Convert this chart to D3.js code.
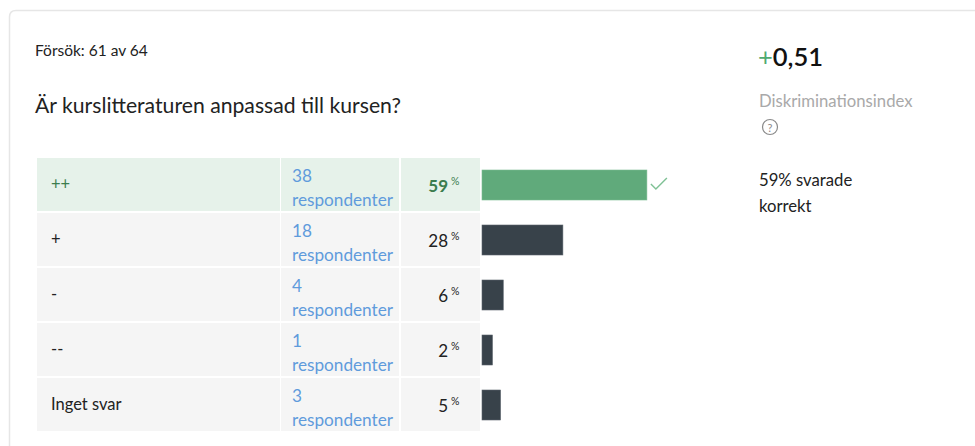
<!DOCTYPE html>
<html>
<head>
<meta charset="utf-8">
<script src="https://cdn.jsdelivr.net/npm/d3@7"></script>
<style>
  body { margin: 0; background: #fff; }
  svg text { font-family: Lato, "Open Sans", sans-serif; }
</style>
</head>
<body>
<svg id="chart"></svg>
<script>
let w = 975;
let h = 446;

// data
let answers = ["++", "+", "-", "--", "Inget svar"];
let counts = [38, 18, 4, 1, 3];
let percents = [59, 28, 6, 2, 5];
let correct = [true, false, false, false, false];
let attemptLabel = "Försök: 61 av 64";
let question = "Är kurslitteraturen anpassad till kursen?";
let discIndex = "0,51";

let data = answers.map((a, i) => ({
    answer: a, count: counts[i], pct: percents[i], correct: correct[i]
}));

let chart = d3.select("#chart")
    .attr("width", w)
    .attr("height", h);

// card outline
chart.append("path")
    .attr("d", "M9.5," + (h + 2) + " L9.5,17 Q9.5,10.5 16,10.5 L" + (w + 2) + ",10.5")
    .attr("fill", "none")
    .attr("stroke", "#e6e6e6")
    .attr("stroke-width", 1.5);

chart.append("text")
    .attr("x", 35).attr("y", 56)
    .attr("font-size", 15.5)
    .attr("fill", "#222")
    .text(attemptLabel);

chart.append("text")
    .attr("x", 35).attr("y", 113)
    .attr("font-size", 21.2)
    .attr("fill", "#222")
    .text(question);

// right side stats
let idx = chart.append("text")
    .attr("x", 758).attr("y", 66)
    .attr("font-size", 25.5)
    .attr("font-weight", 600)
    .attr("fill", "#111");
idx.append("tspan").attr("fill", "#4faa70").attr("font-weight", 400).text("+");
idx.append("tspan").text(discIndex);

chart.append("text")
    .attr("x", 759).attr("y", 107)
    .attr("font-size", 16.7)
    .attr("fill", "#a9a9a9")
    .text("Diskriminationsindex");

chart.append("circle")
    .attr("cx", 770).attr("cy", 127).attr("r", 7.5)
    .attr("fill", "none").attr("stroke", "#8a8a8a").attr("stroke-width", 1.2);
chart.append("text")
    .attr("x", 770).attr("y", 131.5)
    .attr("text-anchor", "middle")
    .attr("font-size", 11)
    .attr("fill", "#8a8a8a")
    .text("?");

let correctPct = d3.sum(data.filter(d => d.correct), d => d.pct);
chart.append("text")
    .attr("x", 759).attr("y", 186)
    .attr("font-size", 16.7)
    .attr("fill", "#222")
    .text(correctPct + "% svarade");
chart.append("text")
    .attr("x", 759).attr("y", 212)
    .attr("font-size", 16.7)
    .attr("fill", "#222")
    .text("korrekt");

// scales
let yScale = d3.scaleBand()
    .domain(answers)
    .range([158, 431])
    .paddingInner(2 / 55);

let xScale = d3.scaleLinear()
    .domain([0, 100])
    .range([487, 758]);

let cols = [
    {x: 37, w: 243},
    {x: 281, w: 118},
    {x: 401, w: 79}
];

let rows = chart.append("g")
    .selectAll("g")
    .data(data)
    .join("g")
    .attr("transform", d => `translate(0, ${yScale(d.answer)})`);

cols.forEach(c => {
    rows.append("rect")
        .attr("x", c.x)
        .attr("width", c.w)
        .attr("height", yScale.bandwidth())
        .attr("fill", d => d.correct ? "#e6f2ea" : "#f5f5f5");
});

let bh = yScale.bandwidth();

rows.append("text")
    .attr("x", 51)
    .attr("y", bh / 2 + 5.5)
    .attr("font-size", 16.5)
    .attr("fill", d => d.correct ? "#3b7d4e" : "#222")
    .text(d => d.answer);

rows.append("text")
    .attr("x", 292)
    .attr("y", 24)
    .attr("font-size", 17.2)
    .attr("fill", "#5f9bdc")
    .text(d => d.count);

rows.append("text")
    .attr("x", 292)
    .attr("y", 48)
    .attr("font-size", 17.2)
    .attr("fill", "#5f9bdc")
    .text("respondenter");

rows.append("text")
    .attr("x", 448)
    .attr("y", 34)
    .attr("text-anchor", "end")
    .attr("font-size", 17)
    .attr("font-weight", d => d.correct ? 700 : 400)
    .attr("fill", d => d.correct ? "#3b7d4e" : "#222")
    .text(d => d.pct);

rows.append("text")
    .attr("x", 451)
    .attr("y", 27)
    .attr("font-size", 10.5)
    .attr("fill", d => d.correct ? "#3b7d4e" : "#222")
    .text("%");

// bars
rows.append("rect")
    .attr("x", 482)
    .attr("y", 12)
    .attr("width", d => xScale(d.pct) - 482)
    .attr("height", 30)
    .attr("fill", d => d.correct ? "#60aa7b" : "#38424a")
    .attr("stroke", d => d.correct ? "#7bbb92" : "#5a636b")
    .attr("stroke-width", 0.6);

// check mark for the correct answer
rows.filter(d => d.correct)
    .append("path")
    .attr("d", d => {
        let x0 = xScale(d.pct) + 4;
        return `M${x0},26 L${x0 + 5},31 L${x0 + 16},20`;
    })
    .attr("fill", "none")
    .attr("stroke", "#7fc195")
    .attr("stroke-width", 1.4);
</script>
</body>
</html>
